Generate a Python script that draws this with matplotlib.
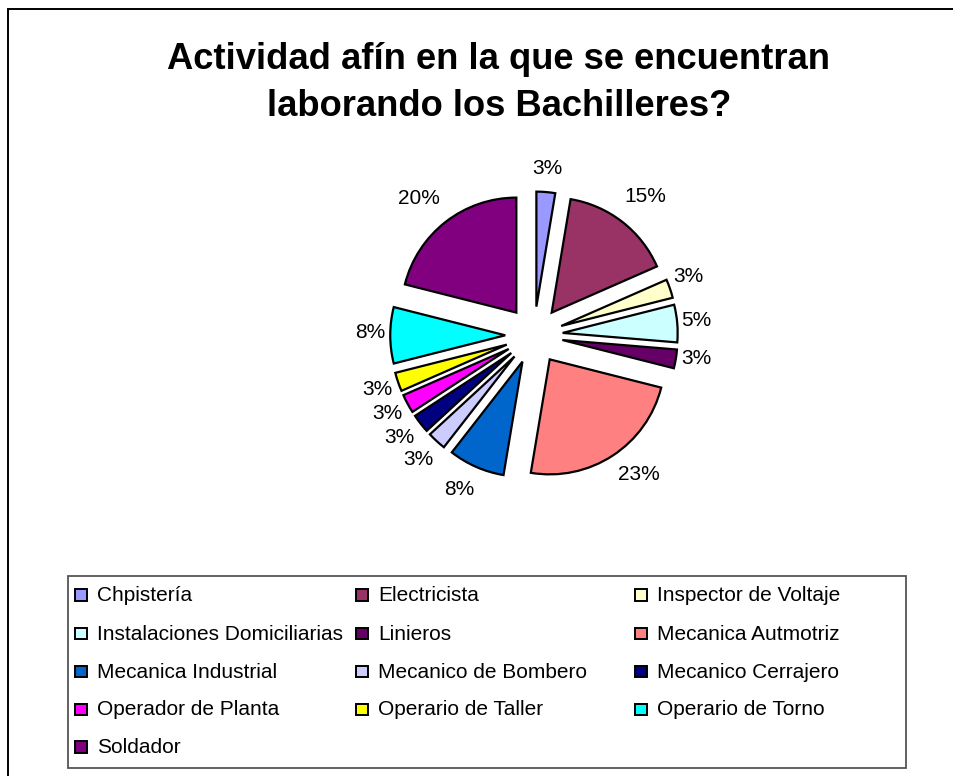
import math
import matplotlib
matplotlib.use("Agg")
import matplotlib.pyplot as plt
from matplotlib.patches import Rectangle

plt.rcParams['font.family'] = ['Liberation Sans', 'DejaVu Sans']

# ---------------- data ----------------
categories = ["Chpistería", "Electricista", "Inspector de Voltaje",
              "Instalaciones Domiciliarias", "Linieros", "Mecanica Autmotriz",
              "Mecanica Industrial", "Mecanico de Bombero", "Mecanico Cerrajero",
              "Operador de Planta", "Operario de Taller", "Operario de Torno",
              "Soldador"]
values = [2.5, 15, 2.5, 5, 2.5, 22.5, 7.5, 2.5, 2.5, 2.5, 2.5, 7.5, 20]
colors = ["#9999FF", "#993366", "#FFFFCC", "#CCFFFF", "#660066", "#FF8080",
          "#0066CC", "#CCCCFF", "#000080", "#FF00FF", "#FFFF00", "#00FFFF",
          "#800080"]
title_lines = ["Actividad afín en la que se encuentran",
               "laborando los Bachilleres?"]

# label placement styling (distance in radii, angle nudge in degrees cw)
label_dist = [1.207, 1.302, 1.185, 1.170, 1.180, 1.270, 1.239, 1.230,
              1.225, 1.196, 1.196, 1.176, 1.304]
label_nudge = [0, 1.0, -2.2, -0.5, -1.5, -4.5, 2.7, 0.4, 0.8, 0.6, -0.2, 1.0, -2.4]

W, H = 954, 776
fig = plt.figure(figsize=(W / 100, H / 100), dpi=100)
fig.patch.set_facecolor("white")

def fx(px):
    return px / W

def fy(py):
    return 1 - py / H

# outer chart border
fig.add_artist(Rectangle((fx(8), -0.05), 1.2, fy(9) + 0.05,
                         transform=fig.transFigure, fill=False,
                         edgecolor="black", linewidth=1.4))

# title
fig.text(fx(499), fy(69), title_lines[0], ha="center", va="baseline",
         fontsize=26.2, fontweight="bold")
fig.text(fx(499), fy(116), title_lines[1], ha="center", va="baseline",
         fontsize=26.2, fontweight="bold")

# pie axes
cx, cy, R = 534, 335.3, 115
L = 1.6
half = L * R
ax = fig.add_axes([fx(cx - half), fy(cy + half), 2 * half / W, 2 * half / H])
wedges, _ = ax.pie(values, explode=[0.25] * len(values), colors=colors,
                   startangle=90, counterclock=False, radius=1,
                   wedgeprops=dict(edgecolor="black", linewidth=1.6))
ax.set_xlim(-L, L)
ax.set_ylim(-L, L)
ax.set_aspect("equal")
ax.axis("off")

for w, v, d, nud in zip(wedges, values, label_dist, label_nudge):
    mid = math.radians((w.theta1 + w.theta2) / 2 - nud)
    x0, y0 = w.center
    ax.text(x0 + d * math.cos(mid), y0 + d * math.sin(mid),
            f"{math.floor(v + 0.5)}%", ha="center", va="center", fontsize=15)

# legend box
fig.add_artist(Rectangle((fx(68), fy(768)), fx(906) - fx(68), fy(576) - fy(768),
                         transform=fig.transFigure, fill=False,
                         edgecolor="#555555", linewidth=1.3))
col_x = [81, 362, 641]
row_y = [595, 633.5, 671.5, 709.4, 747]
msz = 11.5
for i, (lab, col) in enumerate(zip(categories, colors)):
    r, c = divmod(i, 3)
    mx, my = col_x[c], row_y[r]
    fig.add_artist(Rectangle((fx(mx - msz / 2), fy(my + msz / 2)), msz / W, msz / H,
                             transform=fig.transFigure, facecolor=col,
                             edgecolor="black", linewidth=1.4))
    fig.text(fx(mx + 16), fy(my + 6), lab, ha="left", va="baseline",
             fontsize=15)

fig.savefig("out.png", dpi=100, facecolor="white")
